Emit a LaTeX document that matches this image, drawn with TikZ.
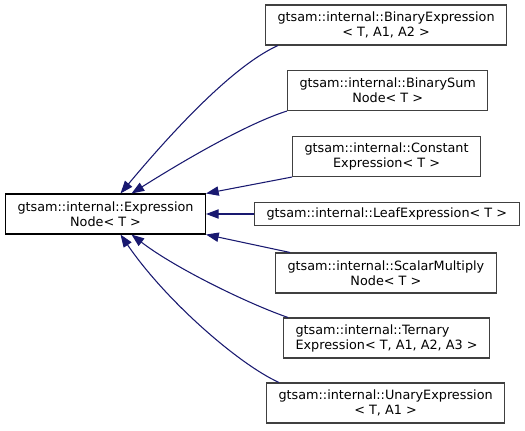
\documentclass[tikz,border=0pt]{standalone}
\usepackage{fontspec}
\setmainfont{DejaVu Sans}
\usepackage{xcolor}
\definecolor{dxnavy}{RGB}{25,25,112}
\definecolor{dxgray}{RGB}{64,64,64}
\usetikzlibrary{arrows.meta, calc}

\begin{document}
\begin{tikzpicture}[x=0.75pt, y=-0.75pt,
    every node/.style={font=\fontsize{9.6}{11.25}\selectfont, inner ysep=0pt, inner xsep=9pt, anchor=west},
    classbox/.style={draw=dxgray, line width=0.8pt, fill=white, minimum height=30pt, align=center},
    inherit/.style={-{Triangle[length=9.5pt,width=7pt]}, dxnavy, line width=0.8pt}]

\useasboundingbox (0,0) rectangle (525,431);

% ===== BASE CLASS (Left) =====
\node[classbox, draw=black, minimum width=149.25pt] (base) at (5,214)
      {gtsam::internal::Expression\\Node< T >};

% ===== DERIVED CLASSES (Right) =====
\node[classbox] (binexpr) at (265,25)
      {gtsam::internal::BinaryExpression\\< T, A1, A2 >};
\node[classbox] (binsum) at (287,90.5)
      {gtsam::internal::BinarySum\\Node< T >};
\node[classbox] (constexpr) at (292,156.5)
      {gtsam::internal::Constant\\Expression< T >};
\node[classbox, minimum height=17.25pt] (leafexpr) at (254,214)
      {gtsam::internal::LeafExpression< T >};
\node[classbox] (scalmult) at (275,273)
      {gtsam::internal::ScalarMultiply\\Node< T >};
\node[classbox, align=left] (ternexpr) at (283,338)
      {gtsam::internal::Ternary\\Expression< T, A1, A2, A3 >};
\node[classbox] (unaryexpr) at (266,403)
      {gtsam::internal::UnaryExpression\\< T, A1 >};

% Inheritance arrows
\draw[inherit] ($(binexpr.south west)+(13,0)$) .. controls +(-38,17) and +(66,-79) .. ($(base.north)+(15,0)$);
\draw[inherit] (binsum.south west) .. controls +(-32,10) and +(70,-44) .. ($(base.north)+(26,0)$);
\draw[inherit] (constexpr.south west) -- (base.north east);
\draw[inherit] (leafexpr.west) -- (base.east);
\draw[inherit] ($(scalmult.north west)+(15,0)$) -- (base.south east);
\draw[inherit] ($(ternexpr.north west)+(5,0)$) .. controls +(-38,-13) and +(44,34) .. ($(base.south)+(26,0)$);
\draw[inherit] ($(unaryexpr.north west)+(13,0)$) .. controls +(-40,-18) and +(45,66) .. ($(base.south)+(15,0)$);

\end{tikzpicture}
\end{document}
